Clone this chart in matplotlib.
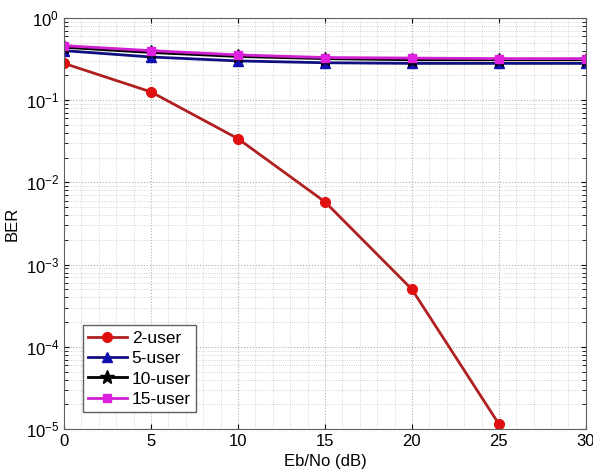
import numpy as np
import matplotlib
matplotlib.use('Agg')
import matplotlib.pyplot as plt
from matplotlib.ticker import MultipleLocator, LogLocator, NullFormatter

plt.rcParams['font.family'] = ['Liberation Sans', 'DejaVu Sans']

# Eb/No values (dB)
ebno = [0, 5, 10, 15, 20, 25, 30]

# BER per number of users
ber_2 = [0.28, 0.126, 0.034, 0.0058, 5.0e-4, 1.15e-5]
ber_5 = [0.40, 0.335, 0.30, 0.285, 0.28, 0.28, 0.28]
ber_10 = [0.44, 0.38, 0.34, 0.32, 0.31, 0.31, 0.31]
ber_15 = [0.46, 0.40, 0.355, 0.33, 0.325, 0.32, 0.32]

fig = plt.figure(figsize=(5.93, 4.72), dpi=100)
ax = fig.add_axes([0.108, 0.091, 0.88, 0.871])

ax.semilogy(ebno[:len(ber_2)], ber_2, '-o', color='#b02020', mfc='#e01010', mec='#e01010',
            lw=2, ms=7, label='2-user')
ax.semilogy(ebno, ber_5, '-^', color='#101080', mfc='#1010b0', mec='#1010b0',
            lw=2, ms=7, label='5-user')
ax.semilogy(ebno, ber_10, '-*', color='black', lw=2, ms=10, label='10-user')
ax.semilogy(ebno, ber_15, '-s', color='#d020d0', mfc='#e020e0', mec='#e020e0',
            lw=2, ms=6, label='15-user')

ax.set_xlim(0, 30)
ax.set_ylim(1e-5, 1)
ax.xaxis.set_major_locator(MultipleLocator(5))
ax.xaxis.set_minor_locator(MultipleLocator(1))
ax.yaxis.set_major_locator(LogLocator(base=10, numticks=10))
ax.yaxis.set_minor_locator(LogLocator(base=10, subs=np.arange(2, 10), numticks=20))
ax.yaxis.set_minor_formatter(NullFormatter())

ax.grid(True, which='major', linestyle=':', color='#b0b0b0', lw=0.8)
ax.grid(True, which='minor', linestyle=':', color='#c8c8c8', lw=0.6)
ax.tick_params(which='both', direction='in', top=True, right=True, labelsize=12)
ax.tick_params(which='minor', length=3)
ax.tick_params(axis='x', which='minor', length=0)
for s in ax.spines.values():
    s.set_color('#606060')

ax.set_xlabel('Eb/No (dB)', fontsize=12, labelpad=4)
ax.set_ylabel('BER', fontsize=12)

leg = ax.legend(loc='lower left', bbox_to_anchor=(0.02, 0.02), fontsize=12.5, fancybox=False,
                edgecolor='#606060', framealpha=1, handlelength=2.2,
                handletextpad=0.3, labelspacing=0.3, borderpad=0.3)

plt.savefig('out.png', dpi=100)
